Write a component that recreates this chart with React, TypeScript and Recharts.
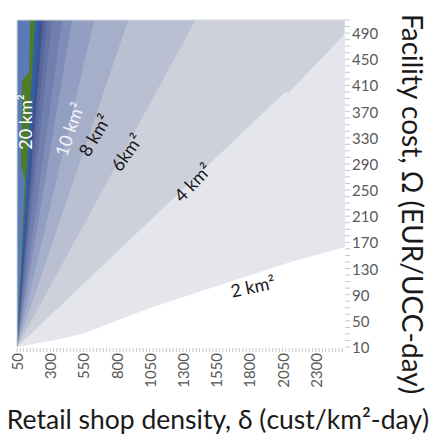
import { ComposedChart, Area, XAxis, YAxis, ReferenceDot, ReferenceLine, Label } from "recharts";

// Contour boundaries as (omega, delta) points.
// Each band is filled from the left edge up to its boundary, painted right-to-left.
const B2 = [
  { w: 10, d: 50 }, { w: 21, d: 352 }, { w: 31, d: 556 }, { w: 70, d: 1054 },
  { w: 140, d: 2112 }, { w: 163, d: 2520 }, { w: 510, d: 2520 },
];
const B4 = [{ w: 10, d: 50 }, { w: 398, d: 2059 }, { w: 400, d: 2100 }, { w: 487, d: 2512 }, { w: 510, d: 2520 }];
const B6 = [{ w: 10, d: 50 }, { w: 383, d: 1054 }, { w: 510, d: 1394 }];
const B8 = [{ w: 10, d: 50 }, { w: 510, d: 888 }];
const B10 = [{ w: 10, d: 50 }, { w: 510, d: 632 }];
const B12 = [{ w: 10, d: 50 }, { w: 510, d: 465 }];
const B14 = [{ w: 10, d: 50 }, { w: 510, d: 390 }];
const B16 = [{ w: 10, d: 50 }, { w: 510, d: 314 }];
const B18 = [{ w: 10, d: 50 }, { w: 510, d: 277 }];
const B20 = [{ w: 10, d: 50 }, { w: 510, d: 246 }];
const B22 = [{ w: 10, d: 50 }, { w: 510, d: 216 }];
const B24 = [{ w: 10, d: 50 }, { w: 510, d: 186 }];
const GREEN_LEFT = [
  { w: 10, d: 50 }, { w: 265, d: 110 }, { w: 288, d: 80 }, { w: 418, d: 88 },
  { w: 430, d: 141 }, { w: 510, d: 148 },
];

const BANDS = [
  { id: "b2", data: B2, color: "#e4e6ec" },
  { id: "b4", data: B4, color: "#cdd1dc" },
  { id: "b6", data: B6, color: "#bac0d1" },
  { id: "b8", data: B8, color: "#a6afca" },
  { id: "b10", data: B10, color: "#929ec2" },
  { id: "b12", data: B12, color: "#808db8" },
  { id: "b14", data: B14, color: "#707fae" },
  { id: "b16", data: B16, color: "#6373a6" },
  { id: "b18", data: B18, color: "#55679d" },
  { id: "b20", data: B20, color: "#3f528d" },
  { id: "b22", data: B22, color: "#2d62a8" },
  { id: "b24", data: B24, color: "#4f7b2b" },
  { id: "gl", data: GREEN_LEFT, color: "#5b7bb8" },
];

const X_LABELS = [50, 300, 550, 800, 1050, 1300, 1550, 1800, 2050, 2300];
const Y_LABELS = [10, 50, 90, 130, 170, 210, 250, 290, 330, 370, 410, 450, 490];
const X_MINOR = Array.from({ length: 99 }, (_, i) => 50 + i * 25);
const Y_MINOR = Array.from({ length: 51 }, (_, i) => 10 + i * 10);

const CONTOUR_LABELS = [
  { text: "20 km²", d: 110, w: 354, rot: -90, fill: "#ffffff" },
  { text: "10 km²", d: 443, w: 343, rot: -71, fill: "#f2f3f7" },
  { text: "8 km²", d: 632, w: 334, rot: -60, fill: "#1a1a1a" },
  { text: "6km²", d: 873, w: 308, rot: -55, fill: "#1a1a1a" },
  { text: "4 km²", d: 1372, w: 262, rot: -46, fill: "#1a1a1a" },
  { text: "2 km²", d: 1825, w: 103, rot: -12, fill: "#1a1a1a" },
];

const FONT = "Lato, 'Open Sans', sans-serif";
const TICK_COLOR = "#595959";
const MINOR_COLOR = "#c8c8c8";

function XTick({ x, y, payload }: any) {
  const v = payload.value;
  return (
    <g>
      <line x1={x} x2={x} y1={y + 1} y2={y + 5} stroke={MINOR_COLOR} strokeWidth={1} />
      {X_LABELS.includes(v) && (
        <text
          x={0}
          y={0}
          transform={`translate(${x},${y + 6}) rotate(-90)`}
          textAnchor="end"
          dominantBaseline="central"
          fontSize={15}
          fontFamily={FONT}
          fill={TICK_COLOR}
        >
          {v}
        </text>
      )}
    </g>
  );
}

function YTick({ x, y, payload }: any) {
  const v = payload.value;
  return (
    <g>
      <line x1={x} x2={x + 5} y1={y} y2={y} stroke={MINOR_COLOR} strokeWidth={1} />
      {Y_LABELS.includes(v) && (
        <text x={x + 7} y={y} dominantBaseline="central" fontSize={15} fontFamily={FONT} fill={TICK_COLOR}>
          {v}
        </text>
      )}
    </g>
  );
}

function XTitle({ viewBox }: any) {
  return (
    <text x={218} y={viewBox.y + 82} textAnchor="middle" fontSize={26.5} fontFamily={FONT} fill="#1a1a1a">
      Retail shop density, δ (cust/km²-day)
    </text>
  );
}

function YTitle() {
  return (
    <text
      x={0}
      y={0}
      transform="translate(413,204) rotate(90)"
      textAnchor="middle"
      dominantBaseline="central"
      fontSize={28}
      fontFamily={FONT}
      fill="#1a1a1a"
    >
      Facility cost, Ω (EUR/UCC-day)
    </text>
  );
}

export default function App() {
  return (
    <div style={{ position: "absolute", left: 0, top: 0, width: 443, height: 441, background: "#fff" }}>
      <ComposedChart
        width={443}
        height={441}
        layout="vertical"
        margin={{ top: 20, right: 0, bottom: 0, left: 17 }}
      >
        <XAxis
          type="number"
          dataKey="d"
          domain={[50, 2520]}
          ticks={X_MINOR}
          interval={0}
          height={94}
          tickSize={0}
          tickMargin={0}
          axisLine={false}
          tickLine={false}
          tick={<XTick />}
          allowDataOverflow
        >
          <Label content={<XTitle />} />
        </XAxis>
        <YAxis
          type="number"
          dataKey="w"
          orientation="right"
          reversed
          domain={[10, 510]}
          ticks={Y_MINOR}
          interval={0}
          width={98}
          tickSize={0}
          tickMargin={0}
          axisLine={false}
          tickLine={false}
          tick={<YTick />}
          allowDataOverflow
        >
          <Label content={<YTitle />} />
        </YAxis>
        {BANDS.map((b) => (
          <Area
            key={b.id}
            data={b.data}
            dataKey="d"
            type="linear"
            fill={b.color}
            fillOpacity={1}
            stroke="none"
            isAnimationActive={false}
            dot={false}
            activeDot={false}
          />
        ))}
        <ReferenceLine y={510} stroke="#d9d9d9" />
        <ReferenceLine x={50} stroke="#d9d9d9" />
        {CONTOUR_LABELS.map((l) => (
          <ReferenceDot
            key={l.text}
            x={l.d}
            y={l.w}
            r={0}
            shape={(p: any) => (
              <text
                x={0}
                y={0}
                transform={`translate(${p.cx},${p.cy}) rotate(${l.rot})`}
                textAnchor="middle"
                dominantBaseline="central"
                fontSize={18}
                fontFamily={FONT}
                fill={l.fill}
              >
                {l.text}
              </text>
            )}
          />
        ))}
      </ComposedChart>
    </div>
  );
}
